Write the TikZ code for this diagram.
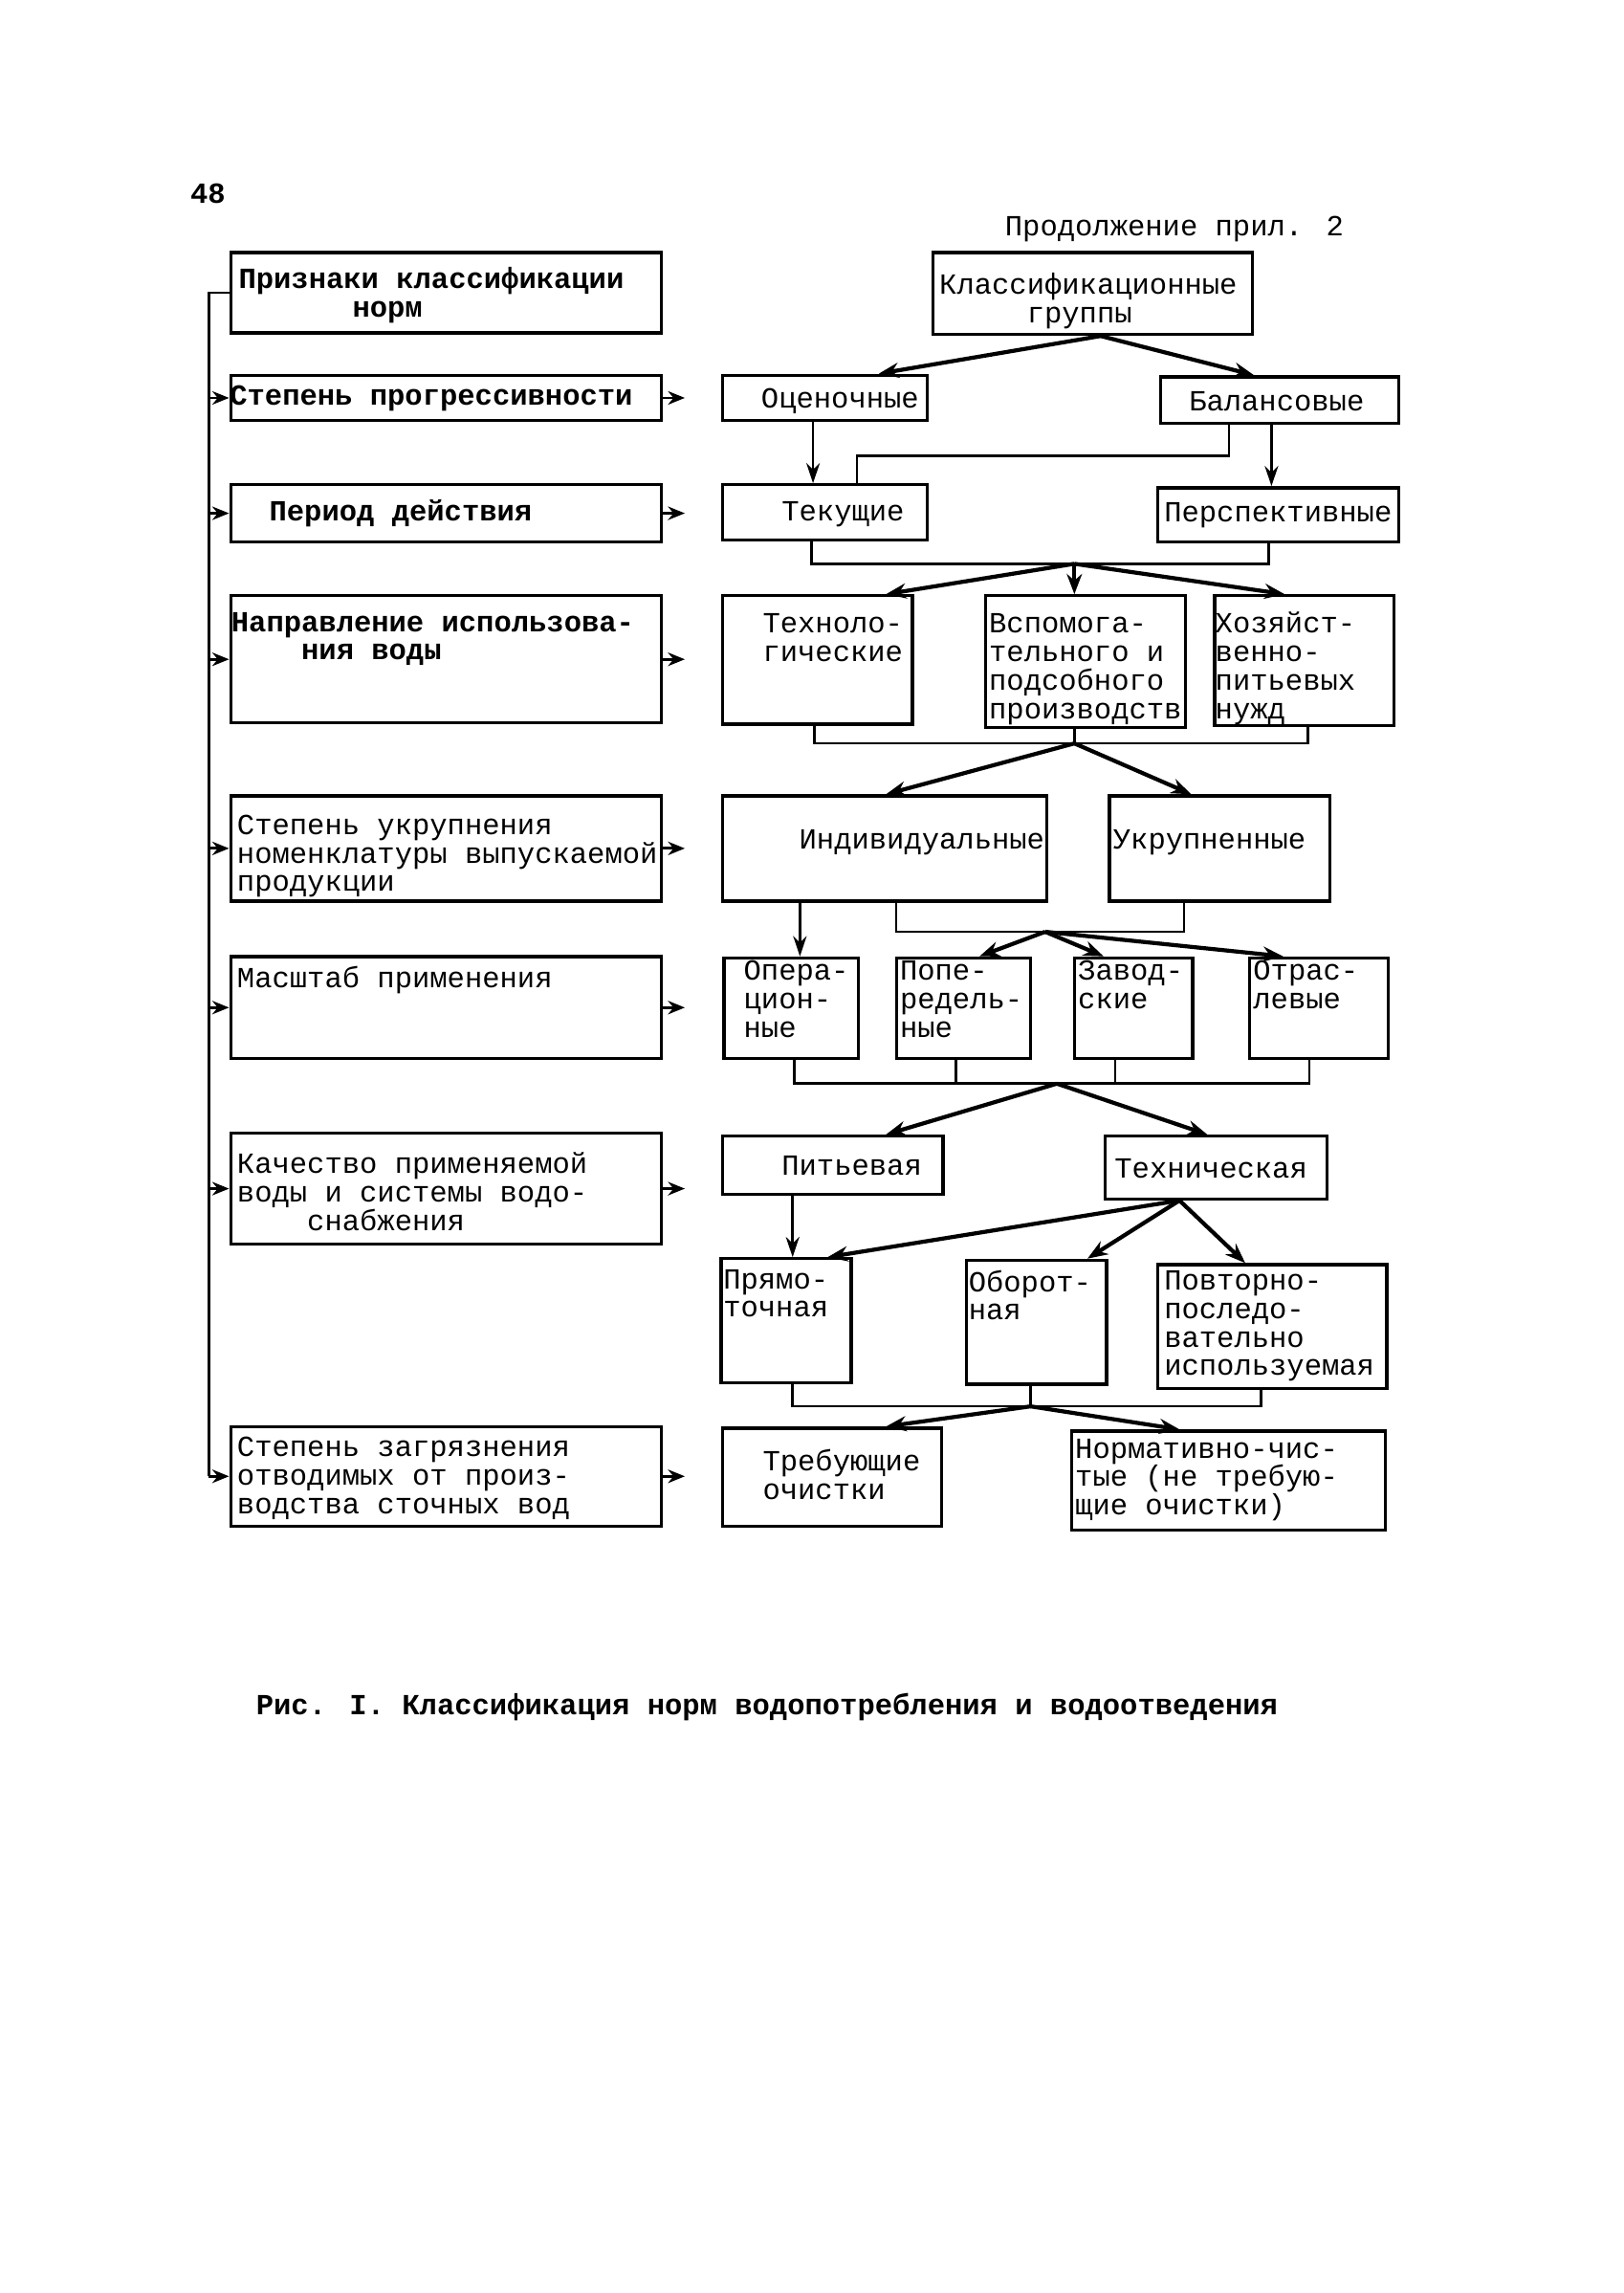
\documentclass[tikz,border=0pt]{standalone}
\usepackage{fontspec}
\setmainfont{Liberation Mono}
\usetikzlibrary{arrows.meta,calc,fit}
\newcommand\myfs{\rule{0pt}{6.95pt}}
\newcommand\mybx[5]{\node[box,fit={(#2,#3) (#4,#5)}] (#1) {};}
\newcommand\mytx[5]{\node[#1,anchor=north west] (#2) at (#3,{#4-16}) {\myfs #5};}
\begin{document}
\begin{tikzpicture}[x=0.015266cm,y=-0.015266cm,
  box/.style={draw,line width=0.95pt,inner sep=0pt},
  lbl/.style={inner sep=0pt,align=left,font=\fontsize{8.68}{8.47}\selectfont},
  lblb/.style={inner sep=0pt,align=left,font=\fontsize{8.68}{8.47}\selectfont\bfseries},
  conn/.style={line width=0.75pt},
  arr/.style={line width=1.2pt,-{Stealth[length=6pt,width=4.5pt]}},
  varr/.style={line width=0.75pt,-{Stealth[length=6pt,width=4pt]}},
  sarr/.style={line width=0.8pt,-{Stealth[length=5pt,width=4pt]}}]
\fill[white] (0,0) rectangle (1112.2,1570.3);
\useasboundingbox (0,0) rectangle (1112.2,1570.3);

% left column
\mybx{b1}{158}{173}{453}{228}
\mybx{b2}{158}{257}{453}{288}
\mybx{b3}{158}{332}{453}{371}
\mybx{b4}{158}{408}{453}{495}
\mybx{b5}{158}{545}{453}{617}
\mybx{b6}{158}{655}{453}{725}
\mybx{b7}{158}{776}{453}{852}
\mybx{b8}{158}{977}{453}{1045}

% right column
\mybx{k}{639}{173}{858}{229}
\mybx{oc}{495}{257}{635}{288}
\mybx{bal}{795}{258}{958}{290}
\mybx{tek}{495}{332}{635}{370}
\mybx{per}{793}{334}{958}{371}
\mybx{tech}{495}{408}{625}{496}
\mybx{vsp}{675}{408}{812}{498}
\mybx{hoz}{832}{408}{955}{497}
\mybx{ind}{495}{545}{717}{617}
\mybx{ukr}{760}{545}{911}{617}
\mybx{op}{496}{656}{588}{725}
\mybx{pop}{614}{656}{706}{725}
\mybx{zav}{736}{656}{817}{725}
\mybx{otr}{856}{656}{951}{725}
\mybx{pit}{495}{778}{646}{818}
\mybx{teh}{757}{778}{909}{821}
\mybx{pr}{494}{862}{583}{947}
\mybx{ob}{662}{863}{758}{948}
\mybx{pov}{793}{866}{950}{951}
\mybx{tr}{495}{978}{645}{1045}
\mybx{nor}{734}{980}{949}{1048}

% texts
\mytx{lblb}{pg}{130}{139}{48}
\mytx{lbl}{cont}{688}{161}{Продолжение прил. 2}
\mytx{lblb}{t1}{163}{197}{Признаки классификации\\\hspace*{3.9em}норм}
\mytx{lblb}{t2}{157}{277}{Степень прогрессивности}
\mytx{lblb}{t3}{184}{356}{Период действия}
\mytx{lblb}{t4}{158}{432}{Направление использова-\\\hspace*{2.4em}ния воды}
\mytx{lbl}{t5}{162}{571}{Степень укрупнения\\номенклатуры выпускаемой\\продукции}
\mytx{lbl}{t6}{162}{676}{Масштаб применения}
\mytx{lbl}{t7}{162}{803}{Качество применяемой\\воды и системы водо-\\\hspace*{2.4em}снабжения}
\mytx{lbl}{t8}{162}{997}{Степень загрязнения\\отводимых от произ-\\водства сточных вод}

\mytx{lbl}{tk}{643}{201}{Классификационные\\\hspace*{3em}группы}
\mytx{lbl}{toc}{521}{279}{Оценочные}
\mytx{lbl}{tbal}{814}{281}{Балансовые}
\mytx{lbl}{ttek}{535}{356}{Текущие}
\mytx{lbl}{tper}{797}{357}{Перспективные}
\mytx{lbl}{ttech}{522}{433}{Техноло-\\гические}
\mytx{lbl}{tvsp}{677}{433}{Вспомога-\\тельного и\\подсобного\\производств}
\mytx{lbl}{thoz}{832}{433}{Хозяйст-\\венно-\\питьевых\\нужд}
\mytx{lbl}{tind}{547}{581}{Индивидуальные}
\mytx{lbl}{tukr}{762}{581}{Укрупненные}
\mytx{lbl}{top}{509}{671}{Опера-\\цион-\\ные}
\mytx{lbl}{tpop}{616}{671}{Попе-\\редель-\\ные}
\mytx{lbl}{tzav}{738}{671}{Завод-\\ские}
\mytx{lbl}{totr}{858}{671}{Отрас-\\левые}
\mytx{lbl}{tpit}{535}{804}{Питьевая}
\mytx{lbl}{tteh}{763}{806}{Техническая}
\mytx{lbl}{tpr}{495}{882}{Прямо-\\точная}
\mytx{lbl}{tob}{663}{884}{Оборот-\\ная}
\mytx{lbl}{tpov}{797}{883}{Повторно-\\последо-\\вательно\\используемая}
\mytx{lbl}{ttr}{522}{1007}{Требующие\\очистки}
\mytx{lbl}{tnor}{736}{998}{Нормативно-чис-\\тые (не требую-\\щие очистки)}
\mytx{lblb}{cap}{175}{1174}{Рис. I. Классификация норм водопотребления и водоотведения}

% left column connectors
\coordinate (lv) at (143,0);
\draw[conn] (b1.west) -- (b1.west -| lv) -- (b8.west -| lv);
\foreach \b in {b2,b3,b4,b5,b6,b7,b8}{
  \draw[sarr] (\b.west -| lv) -- (\b.west);
  \draw[sarr] (\b.east) -- ++(15,0);
}

% right column connectors
\coordinate (j1) at ($(k.south west)+(116,0)$);
\draw[arr] (j1) -- ($(oc.north west)+(108,0)$);
\draw[arr] (j1) -- ($(bal.north west)+(65,0)$);
\draw[varr] ($(oc.south west)+(63,0)$) -- ($(tek.north west)+(63,0)$);
\draw[conn] ($(bal.south west)+(48,0)$) -- ++(0,21) -| ($(tek.north west)+(93,0)$);
\draw[varr] ($(bal.south west)+(77,0)$) -- ($(per.north west)+(79,0)$);

\draw[conn] ($(tek.south west)+(62,0)$) -- ++(0,15) -| ($(per.south west)+(77,0)$);
\coordinate (j3) at ($(tek.south west)+(242,15)$);
\draw[arr] (j3) -- ($(tech.north west)+(113,0)$);
\draw[arr] (j3) -- ($(vsp.north west)+(62,0)$);
\draw[arr] (j3) -- ($(hoz.north west)+(49,0)$);

\draw[conn] ($(tech.south west)+(64,0)$) |- ($(hoz.south west)+(65,11)$) -- ($(hoz.south west)+(65,0)$);
\coordinate (j4) at ($(tech.south west)+(242,12)$);
\draw[conn] ($(vsp.south west)+(62,0)$) -- (j4);
\draw[arr] (j4) -- ($(ind.north west)+(113,0)$);
\draw[arr] (j4) -- ($(ukr.north west)+(57,0)$);

\draw[varr] ($(ind.south west)+(54,0)$) -- ($(op.north west)+(53,0)$);
\draw[conn] ($(ind.south west)+(120,0)$) -- ++(0,20) -| ($(ukr.south west)+(52,0)$);
\coordinate (j6) at ($(ind.south west)+(222,20)$);
\draw[arr] (j6) -- ($(pop.north west)+(58,0)$);
\draw[arr] (j6) -- ($(zav.north west)+(21,0)$);
\draw[arr] (j6) -- ($(otr.north west)+(24,0)$);

\draw[conn] ($(op.south west)+(49,0)$) |- ($(otr.south west)+(42,16)$) -- ($(otr.south west)+(42,0)$);
\draw[conn] ($(pop.south west)+(42,0)$) -- ++(0,16);
\draw[conn] ($(zav.south west)+(29,0)$) -- ++(0,16);
\coordinate (j7) at ($(op.south west)+(229,16)$);
\draw[arr] (j7) -- ($(pit.north west)+(113,0)$);
\draw[arr] (j7) -- ($(teh.north west)+(71,0)$);

\draw[varr] ($(pit.south west)+(49,0)$) -- ($(pr.north west)+(50,0)$);
\coordinate (j8) at ($(teh.south west)+(52,0)$);
\draw[arr] (j8) -- ($(pr.north west)+(74,0)$);
\draw[arr] (j8) -- ($(ob.north west)+(84,0)$);
\draw[arr] (j8) -- ($(pov.north west)+(61,0)$);

\draw[conn] ($(pr.south west)+(50,0)$) |- ($(pov.south west)+(72,11)$) -- ($(pov.south west)+(72,0)$);
\draw[conn] ($(ob.south west)+(45,0)$) -- ++(0,14);
\coordinate (j9) at ($(pr.south west)+(213,15)$);
\draw[arr] (j9) -- ($(tr.north west)+(113,0)$);
\draw[arr] (j9) -- ($(nor.north west)+(75,0)$);
\end{tikzpicture}
\end{document}
